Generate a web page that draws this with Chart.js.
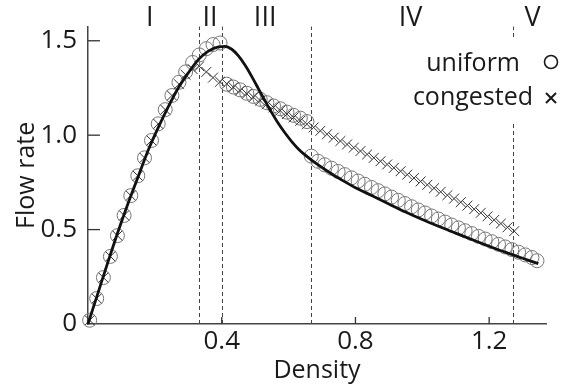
<!DOCTYPE html>
<html lang="es">
<head>
<meta charset="utf-8">
<title>Flow rate vs Density</title>
<script src="https://cdn.jsdelivr.net/npm/chart.js@4.4.1/dist/chart.umd.min.js"></script>
<style>
    html, body { margin: 0; padding: 0; background: #fff; }
    #wrap { position: relative; width: 571px; height: 386px; }
</style>
</head>
<body>
<div id="wrap"><canvas id="chart"></canvas></div>
<script>
// Datos: círculos (uniform)
const UNIFORM_DENSITY = [
    0.005, 0.026, 0.046, 0.067, 0.088, 0.108, 0.128, 0.149, 0.169, 0.190,
    0.210, 0.231, 0.251, 0.272, 0.292, 0.313, 0.333, 0.354, 0.374, 0.395,
    0.415, 0.435, 0.455, 0.475, 0.495, 0.515, 0.535, 0.555, 0.575, 0.595,
    0.615, 0.635, 0.655,
    0.668, 0.688, 0.708, 0.728, 0.748, 0.768, 0.788, 0.808, 0.828, 0.848,
    0.868, 0.888, 0.908, 0.928, 0.948, 0.968, 0.988, 1.008, 1.028, 1.048,
    1.068, 1.088, 1.108, 1.128, 1.148, 1.168, 1.188, 1.208, 1.228, 1.248,
    1.268, 1.288, 1.308, 1.328, 1.343
];
const UNIFORM_FLOW = [
    0.02, 0.135, 0.246, 0.358, 0.468, 0.575, 0.68, 0.785, 0.88, 0.972,
    1.06, 1.135, 1.21, 1.28, 1.335, 1.385, 1.425, 1.458, 1.48, 1.488,
    1.27, 1.255, 1.24, 1.222, 1.205, 1.19, 1.172, 1.155, 1.14, 1.122,
    1.105, 1.09, 1.072,
    0.889, 0.862, 0.843, 0.825, 0.808, 0.791, 0.774, 0.757, 0.74, 0.723,
    0.706, 0.689, 0.672, 0.655, 0.638, 0.621, 0.604, 0.588, 0.572, 0.556,
    0.54, 0.524, 0.509, 0.494, 0.479, 0.464, 0.45, 0.436, 0.422, 0.408,
    0.394, 0.38, 0.366, 0.352, 0.335
];

// Cruces (congested)
const CONGESTED_DENSITY = [
    0.005, 0.026, 0.046, 0.067, 0.088, 0.108, 0.128, 0.149, 0.169, 0.190,
    0.210, 0.231, 0.251, 0.272, 0.292, 0.313, 0.333, 0.354, 0.374, 0.395,
    0.415, 0.435, 0.455, 0.475, 0.495, 0.515, 0.535, 0.555, 0.575, 0.595,
    0.615, 0.635, 0.655, 0.675, 0.695, 0.715, 0.735, 0.755, 0.775, 0.795,
    0.815, 0.835, 0.855, 0.875, 0.895, 0.915, 0.935, 0.955, 0.975, 0.995,
    1.015, 1.035, 1.055, 1.075, 1.095, 1.115, 1.135, 1.155, 1.175, 1.195,
    1.215, 1.235, 1.255, 1.275
];
const CONGESTED_FLOW = [
    0.02, 0.135, 0.246, 0.358, 0.468, 0.575, 0.68, 0.785, 0.88, 0.972,
    1.06, 1.135, 1.21, 1.27, 1.32, 1.35, 1.365, 1.335, 1.305, 1.283,
    1.272, 1.254, 1.236, 1.219, 1.201, 1.183, 1.165, 1.147, 1.13, 1.112,
    1.094, 1.076, 1.058, 1.041, 1.023, 1.005, 0.987, 0.969, 0.951, 0.934,
    0.916, 0.898, 0.88, 0.862, 0.845, 0.827, 0.809, 0.791, 0.773, 0.755,
    0.737, 0.719, 0.70, 0.682, 0.664, 0.645, 0.627, 0.608, 0.589, 0.57,
    0.551, 0.532, 0.512, 0.492
];

// Curva teórica (línea negra)
const CURVE_DENSITY = [
    0, 0.03, 0.06, 0.09, 0.12, 0.15, 0.18, 0.21, 0.24, 0.27,
    0.30, 0.33, 0.36, 0.39, 0.41, 0.43, 0.45, 0.47, 0.49, 0.51,
    0.53, 0.55, 0.57, 0.59, 0.61, 0.63, 0.65, 0.68, 0.72, 0.76,
    0.80, 0.85, 0.90, 0.95, 1.00, 1.05, 1.10, 1.15, 1.20, 1.25, 1.30, 1.347
];
const CURVE_FLOW = [
    0, 0.165, 0.33, 0.49, 0.64, 0.78, 0.92, 1.04, 1.15, 1.25,
    1.33, 1.40, 1.445, 1.468, 1.47, 1.455, 1.42, 1.37, 1.31, 1.245,
    1.18, 1.118, 1.06, 1.01, 0.965, 0.926, 0.894, 0.853, 0.805, 0.762,
    0.722, 0.679, 0.636, 0.593, 0.553, 0.516, 0.481, 0.446, 0.412, 0.379, 0.348, 0.32
];

// Regiones y textos
const REGION_BOUNDS = [0.333, 0.4, 0.667, 1.27];
const REGION_NAMES = ['I', 'II', 'III', 'IV', 'V'];
const REGION_CENTERS = [0.185, 0.365, 0.53, 0.965, 1.33];
const X_TICKS = [0.4, 0.8, 1.2];
const Y_TICKS = [0, 0.5, 1.0, 1.5];
const LEGEND_LABELS = ['uniform', 'congested'];

const FONT = '"Open Sans", sans-serif';

// Convierte dos listas en puntos {x, y}
const toPoints = (xs, ys) => xs.map((x, i) => ({ x: x, y: ys[i] }));

// Plugin: líneas punteadas, marcas hacia adentro, números romanos y leyenda
const extras = {
    id: 'extras',
    beforeDatasetsDraw(chart) {
        const { ctx, chartArea, scales: { x, y } } = chart;
        ctx.save();
        ctx.strokeStyle = '#444';
        ctx.lineWidth = 1;
        ctx.setLineDash([4, 3]);
        REGION_BOUNDS.forEach(b => {
            const px = Math.round(x.getPixelForValue(b)) + 0.5;
            ctx.beginPath();
            ctx.moveTo(px, chartArea.bottom);
            ctx.lineTo(px, chartArea.top);
            ctx.stroke();
        });
        ctx.setLineDash([]);
        ctx.strokeStyle = '#333';
        ctx.lineWidth = 1.3;
        Y_TICKS.filter(v => v > 0).forEach(v => {
            const py = y.getPixelForValue(v);
            ctx.beginPath();
            ctx.moveTo(chartArea.left, py);
            ctx.lineTo(chartArea.left + 12, py);
            ctx.stroke();
        });
        X_TICKS.forEach(v => {
            const px = x.getPixelForValue(v);
            ctx.beginPath();
            ctx.moveTo(px, chartArea.bottom);
            ctx.lineTo(px, chartArea.bottom - 7);
            ctx.stroke();
        });
        ctx.restore();
    },
    afterDatasetsDraw(chart) {
        const { ctx, scales: { x } } = chart;
        ctx.save();
        ctx.fillStyle = '#1a1a1a';
        ctx.font = '27px ' + FONT;
        ctx.textAlign = 'center';
        ctx.textBaseline = 'alphabetic';
        REGION_NAMES.forEach((name, i) => {
            ctx.fillText(name, x.getPixelForValue(REGION_CENTERS[i]), 26);
        });

        // Leyenda con fondo blanco
        ctx.fillStyle = '#fff';
        ctx.fillRect(405, 40, 160, 82);
        ctx.fillStyle = '#1a1a1a';
        ctx.font = '25px ' + FONT;
        ctx.textAlign = 'right';
        ctx.fillText(LEGEND_LABELS[0], 520, 71);
        ctx.fillText(LEGEND_LABELS[1], 533, 105);
        ctx.strokeStyle = '#1a1a1a';
        ctx.lineWidth = 1.6;
        ctx.beginPath();
        ctx.arc(551, 62, 6.5, 0, Math.PI * 2);
        ctx.stroke();
        ctx.lineWidth = 2;
        ctx.beginPath();
        ctx.moveTo(546, 93);
        ctx.lineTo(556, 103);
        ctx.moveTo(556, 93);
        ctx.lineTo(546, 103);
        ctx.stroke();
        ctx.restore();
    }
};

// Crea el gráfico de dispersión con la curva
new Chart(document.getElementById('chart'), {
    type: 'scatter',
    data: {
        datasets: [{
            label: 'theory',
            data: toPoints(CURVE_DENSITY, CURVE_FLOW),
            showLine: true,
            borderColor: '#111',
            borderWidth: 2.8,
            pointRadius: 0,
            cubicInterpolationMode: 'monotone',
            clip: false
        }, {
            label: LEGEND_LABELS[1],
            data: toPoints(CONGESTED_DENSITY, CONGESTED_FLOW),
            pointStyle: 'crossRot',
            pointRadius: 7,
            borderColor: '#333',
            borderWidth: 1,
            backgroundColor: 'transparent',
            clip: false
        }, {
            label: LEGEND_LABELS[0],
            data: toPoints(UNIFORM_DENSITY, UNIFORM_FLOW),
            pointStyle: 'circle',
            pointRadius: 7,
            borderColor: '#777',
            borderWidth: 1,
            backgroundColor: 'transparent',
            clip: false
        }]
    },
    options: {
        responsive: true,
        maintainAspectRatio: false,
        animation: false,
        layout: { padding: { top: 25, right: 25, left: 0, bottom: 0 } },
        plugins: {
            legend: { display: false },
            tooltip: { enabled: false }
        },
        scales: {
            x: {
                type: 'linear',
                min: 0,
                max: 1.37,
                afterBuildTicks: (scale) => { scale.ticks = X_TICKS.map(v => ({ value: v })); },
                afterFit: (scale) => { scale.height = 62; },
                grid: { display: false, drawTicks: false },
                border: { display: true, color: '#444', width: 1.5 },
                ticks: {
                    color: '#1a1a1a',
                    font: { family: FONT, size: 26 },
                    padding: 2,
                    maxRotation: 0,
                    callback: (v) => v.toFixed(1)
                },
                title: {
                    display: true,
                    text: 'Density',
                    color: '#1a1a1a',
                    font: { family: FONT, size: 25 },
                    padding: { top: 0, bottom: 0 }
                }
            },
            y: {
                type: 'linear',
                min: 0,
                max: 1.575,
                afterBuildTicks: (scale) => { scale.ticks = Y_TICKS.map(v => ({ value: v })); },
                afterFit: (scale) => { scale.width = 88; },
                grid: { display: false, drawTicks: false },
                border: { display: true, color: '#444', width: 1.5 },
                ticks: {
                    color: '#1a1a1a',
                    font: { family: FONT, size: 26 },
                    padding: 11,
                    callback: (v) => v === 0 ? '0' : v.toFixed(1)
                },
                title: {
                    display: true,
                    text: 'Flow rate',
                    color: '#1a1a1a',
                    font: { family: FONT, size: 25 },
                    padding: { top: 12, bottom: 0 }
                }
            }
        }
    },
    plugins: [extras]
});
</script>
</body>
</html>
